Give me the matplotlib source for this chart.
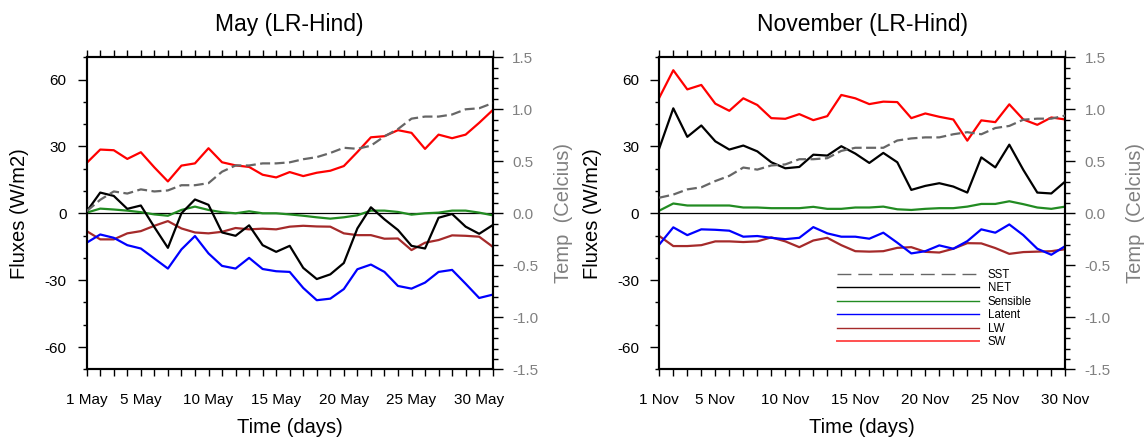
import numpy as np
import matplotlib
matplotlib.use("Agg")
import matplotlib.pyplot as plt
from matplotlib.lines import Line2D
from matplotlib.ticker import MultipleLocator, FixedLocator

plt.rcParams['font.family'] = ['Liberation Sans', 'DejaVu Sans']

# ---------------- data ----------------
may_days = list(range(1, 32))
nov_days = list(range(1, 31))

may_sw = [22.6, 28.6, 28.3, 24.4, 27.4, 20.6, 14.3, 21.4, 22.4, 29.2, 22.9, 21.5, 20.8, 17.3, 16.1,
          18.5, 16.7, 18.2, 19.1, 21.2, 27.5, 34.1, 34.6, 37.3, 36.1, 28.9, 35.3, 33.7, 35.3, 40.6, 46.3]
may_net = [0.8, 9.3, 7.8, 2.0, 3.5, -6.2, -15.5, 0.0, 6.2, 3.8, -8.6, -10.1, -5.4, -14.3, -17.3,
           -14.6, -24.5, -29.5, -27.4, -22.3, -6.8, 2.7, -2.7, -7.5, -14.6, -15.8, -2.0, -0.3, -6.0, -9.2, -5.3]
may_sens = [0.3, 2.1, 1.7, 1.2, 0.5, -0.5, -1.1, 1.5, 3.0, 1.5, 0.5, 0.0, 0.9, 0.0, 0.0,
            -0.5, -1.1, -1.8, -2.4, -1.8, -0.9, 1.2, 1.2, 0.6, -0.6, 0.0, 0.3, 1.2, 1.2, 0.3, -0.9]
may_lat = [-13.2, -9.5, -11.0, -14.3, -15.8, -20.3, -24.8, -16.2, -10.2, -18.0, -23.6, -24.8, -20.0, -25.0, -26.0,
           -26.3, -33.5, -39.0, -38.3, -34.0, -25.1, -23.0, -26.3, -32.6, -33.8, -31.1, -26.3, -25.4, -31.6, -38.0, -36.5]
may_lw = [-8.0, -11.7, -11.7, -9.0, -8.0, -5.6, -3.5, -6.8, -8.6, -9.0, -8.3, -6.6, -7.2, -6.9, -7.2,
          -6.0, -5.6, -5.9, -6.0, -9.0, -9.8, -9.8, -11.4, -11.3, -16.5, -13.2, -12.0, -9.9, -10.1, -10.5, -15.0]
may_sst = [0.02, 0.13, 0.21, 0.19, 0.23, 0.21, 0.22, 0.27, 0.27, 0.29, 0.40, 0.46, 0.46, 0.48, 0.48,
           0.49, 0.52, 0.54, 0.58, 0.63, 0.62, 0.65, 0.74, 0.81, 0.91, 0.93, 0.93, 0.95, 1.00, 1.01, 1.06]

nov_sw = [51.9, 64.2, 55.6, 57.6, 49.2, 46.0, 51.6, 48.6, 42.7, 42.4, 44.5, 41.8, 43.6, 53.1, 51.6,
          49.0, 50.1, 49.9, 42.7, 44.8, 43.3, 42.1, 32.6, 41.7, 40.9, 48.9, 42.1, 39.7, 43.0, 42.1]
nov_net = [29.2, 47.1, 34.3, 39.4, 32.3, 28.6, 30.4, 27.8, 22.9, 20.2, 20.8, 26.3, 25.9, 30.1, 26.8,
           22.6, 27.1, 22.9, 10.5, 12.3, 13.5, 12.0, 9.3, 25.1, 20.6, 30.8, 19.5, 9.3, 8.9, 14.3]
nov_sens = [1.2, 4.4, 3.5, 3.5, 3.5, 3.5, 2.6, 2.6, 2.3, 2.3, 2.3, 2.9, 2.0, 2.0, 2.6,
            2.6, 3.0, 1.8, 1.5, 2.0, 2.3, 2.3, 3.0, 4.2, 4.2, 5.4, 4.1, 2.6, 2.0, 3.0]
nov_lat = [-14.0, -6.3, -9.8, -7.2, -7.4, -7.8, -10.5, -10.2, -11.0, -11.6, -11.0, -6.2, -9.0, -10.5, -10.5,
           -11.4, -8.7, -13.2, -18.0, -17.0, -14.4, -15.9, -12.5, -7.2, -8.7, -5.0, -9.8, -15.9, -18.6, -14.7]
nov_lw = [-10.2, -14.7, -14.7, -14.3, -12.6, -12.6, -12.9, -12.6, -10.8, -12.6, -15.2, -12.2, -11.0, -14.3, -17.0,
          -17.2, -17.0, -15.5, -15.2, -17.3, -17.6, -15.9, -13.4, -13.5, -15.6, -18.2, -17.4, -17.2, -17.0, -16.1]
nov_sst = [0.15, 0.18, 0.23, 0.25, 0.31, 0.36, 0.44, 0.42, 0.46, 0.47, 0.52, 0.52, 0.53, 0.60, 0.63,
           0.63, 0.63, 0.70, 0.72, 0.73, 0.73, 0.76, 0.78, 0.76, 0.82, 0.84, 0.90, 0.91, 0.91, 0.94]

label_days = [1, 5, 10, 15, 20, 25, 30]
series_names = ["SST", "NET", "Sensible", "Latent", "LW", "SW"]
flux_ticks = [-60, -30, 0, 30, 60]
temp_ticks = [-1.5, -1.0, -0.5, 0.0, 0.5, 1.0, 1.5]

# ---------------- style ----------------
C_SW, C_NET, C_SENS, C_LAT, C_LW, C_SST = "#ff0000", "#000000", "#228b22", "#0000ff", "#a52a2a", "#666666"
GRAY_TXT = "#808080"
LW = 1.6
TICK_FS = 11
LABEL_FS = 14.5
TITLE_FS = 16.5

W, H = 1145, 437
fig = plt.figure(figsize=(W / 100, H / 100), dpi=100)


def panel(left_px, days, sw, net, sens, lat, lw, sst, month, title, legend=False):
    ax = fig.add_axes([left_px / W, (H - 369.3) / H, 406.0 / W, 312.0 / H])
    ax.axhline(0, color="black", lw=0.9, zorder=1)
    ax.plot(days, sens, color=C_SENS, lw=LW, zorder=2)
    ax.plot(days, lw, color=C_LW, lw=LW, zorder=2)
    ax.plot(days, lat, color=C_LAT, lw=LW, zorder=2)
    ax.plot(days, net, color=C_NET, lw=LW, zorder=3)
    ax.plot(days, sw, color=C_SW, lw=LW, zorder=3)
    ax.set_xlim(days[0], days[-1])
    ax.set_ylim(-70, 70)
    ax.set_yticks(flux_ticks)
    ax.set_yticklabels([str(v) for v in flux_ticks])
    ax.yaxis.set_minor_locator(MultipleLocator(10))
    ax.set_xticks(days)
    ax.set_xticklabels([f"{d} {month}" if d in label_days else "" for d in days])
    ax.tick_params(axis="x", which="major", direction="out", length=5, width=1,
                   top=True, labelsize=TICK_FS, pad=12)
    ax.tick_params(axis="y", which="major", direction="out", length=6.5, width=1,
                   labelsize=TICK_FS, pad=8)
    ax.tick_params(axis="y", which="minor", direction="out", length=3.2, width=1)
    for s in ax.spines.values():
        s.set_linewidth(1.5)
    ax.set_ylabel("Fluxes (W/m2)", fontsize=LABEL_FS, labelpad=11)
    ax.set_xlabel("Time (days)", fontsize=LABEL_FS, labelpad=8)
    ax.set_title(title, fontsize=TITLE_FS, pad=19)

    ax2 = ax.twinx()
    ax2.plot(days, sst, color=C_SST, lw=LW, dashes=(4.5, 2), zorder=4)
    ax2.set_ylim(-1.5, 1.5)
    ax2.set_yticks(temp_ticks)
    ax2.set_yticklabels([f"{v:.1f}" for v in temp_ticks])
    ax2.yaxis.set_minor_locator(MultipleLocator(0.1))
    ax2.tick_params(axis="y", which="major", direction="out", length=7, width=1,
                    labelsize=TICK_FS, labelcolor=GRAY_TXT, pad=7)
    ax2.tick_params(axis="y", which="minor", direction="out", length=3.5, width=1)
    for s in ax2.spines.values():
        s.set_linewidth(1.5)
    ax2.set_ylabel("Temp  (Celcius)", fontsize=LABEL_FS, color=GRAY_TXT, labelpad=11)

    if legend:
        handles = [
            Line2D([], [], color=C_SST, lw=1.0, dashes=(10, 5)),
            Line2D([], [], color=C_NET, lw=1.0),
            Line2D([], [], color=C_SENS, lw=1.0),
            Line2D([], [], color=C_LAT, lw=1.0),
            Line2D([], [], color=C_LW, lw=1.0),
            Line2D([], [], color="#ff5050", lw=1.4),
        ]
        ax2.legend(handles, series_names, loc="upper left", bbox_to_anchor=(0.437, 0.322),
                   frameon=False, fontsize=8.3, handlelength=12.3, handletextpad=0.78,
                   labelspacing=0.13, borderpad=0, borderaxespad=0)
    return ax, ax2


panel(86.7, may_days, may_sw, may_net, may_sens, may_lat, may_lw, may_sst, "May", "May (LR-Hind)")
panel(659.3, nov_days, nov_sw, nov_net, nov_sens, nov_lat, nov_lw, nov_sst, "Nov", "November (LR-Hind)", legend=True)

fig.savefig("out.png", dpi=100)
